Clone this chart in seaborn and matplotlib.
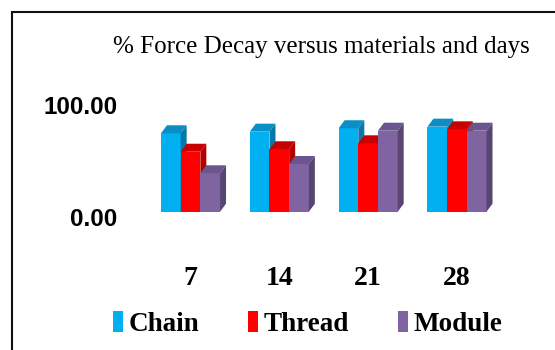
import matplotlib
matplotlib.use("Agg")
import matplotlib.pyplot as plt
from matplotlib.patches import Polygon, Rectangle
from matplotlib.ticker import StrMethodFormatter
from matplotlib.transforms import ScaledTranslation
import seaborn as sns
import pandas as pd

# ---- data ----
days = ["7", "14", "21", "28"]
chain = [73.5, 75.0, 78.2, 79.7]
thread = [56.2, 58.5, 64.1, 77.2]
module = [36.0, 44.7, 75.9, 75.9]
series_names = ["Chain", "Thread", "Module"]
title_text = "% Force Decay versus materials and days"
y_ticks = [0, 100]

front_colors = {"Chain": "#00B0F0", "Thread": "#FF0000", "Module": "#8064A2"}
top_colors = {"Chain": "#0A8EC4", "Thread": "#C80000", "Module": "#6A5590"}
side_colors = {"Chain": "#0878A6", "Thread": "#B00000", "Module": "#574572"}

df = pd.DataFrame({
    "day": days * 3,
    "series": [s for s in series_names for _ in days],
    "value": chain + thread + module,
})

sns.set_theme(style="white")
plt.rcParams["font.family"] = ["Liberation Serif", "DejaVu Serif"]
plt.rcParams["text.color"] = "black"

fig = plt.figure(figsize=(5.55, 3.5), dpi=100)
ax = fig.add_axes([137.2 / 555, 138.3 / 350, (501.4 - 137.2) / 555, (245 - 138.3) / 350])

sns.barplot(data=df, x="day", y="value", hue="series", order=days,
            hue_order=series_names, palette=front_colors, saturation=1,
            width=0.665, errorbar=None, ax=ax, linewidth=0)

ax.set_xlim(-0.6, 3.5)
ax.set_ylim(0, 100)
ax.set_yticks(y_ticks)
ax.yaxis.set_major_formatter(StrMethodFormatter("{x:.2f}"))
ax.set_xlabel("")
ax.set_ylabel("")
for sp in ax.spines.values():
    sp.set_visible(False)
ax.tick_params(axis="both", length=0, labelcolor="black")
ax.tick_params(axis="y", pad=14.4)
ax.tick_params(axis="x", pad=39)
for lab in ax.get_yticklabels():
    lab.set_fontfamily(["Liberation Sans"])
    lab.set_fontweight("bold")
    lab.set_fontsize(17.5)
for lab in ax.get_xticklabels():
    lab.set_fontfamily(["Liberation Serif"])
    lab.set_fontweight("bold")
    lab.set_fontsize(20)

# shift the 0.00 label slightly down (as in reference)
t0 = ax.yaxis.get_major_ticks()[0]
t0.label1.set_transform(t0.label1.get_transform() +
                        ScaledTranslation(0, -4 / 72, fig.dpi_scale_trans))

# ---- pseudo 3-D faces derived from the seaborn bars ----
dx_px, dy_px = 6.0, 8.0
p0 = ax.transData.transform((0, 0))
p1 = ax.transData.transform((1, 1))
dx = dx_px / (p1[0] - p0[0])
dy = dy_px / (p1[1] - p0[1])

bars_by_series = {}
for cont, name in zip(ax.containers, series_names):
    bars_by_series[name] = list(cont)

z = 2
for gi in range(len(days)):
    for name in series_names:
        bar = bars_by_series[name][gi]
        x0 = bar.get_x()
        w = bar.get_width()
        h = bar.get_height()
        x1 = x0 + w
        bar.set_zorder(z)
        top = Polygon([(x0, h), (x1, h), (x1 + dx, h + dy), (x0 + dx, h + dy)],
                      closed=True, facecolor=top_colors[name], edgecolor="none",
                      zorder=z + 0.1, clip_on=False)
        side = Polygon([(x1, 0), (x1, h), (x1 + dx, h + dy), (x1 + dx, dy)],
                       closed=True, facecolor=side_colors[name], edgecolor="none",
                       zorder=z + 0.2, clip_on=False)
        ax.add_patch(top)
        ax.add_patch(side)
        z += 1

# ---- title ----
fig.text(321 / 555, (350 - 47) / 350, title_text, ha="center", va="center",
         fontsize=18, fontfamily=["Liberation Serif"], color="black")

# ---- legend ----
sns.move_legend(ax, loc="center left", bbox_to_anchor=(113 / 555, 26 / 350),
                bbox_transform=fig.transFigure, ncol=3, frameon=False,
                title=None, borderpad=0, borderaxespad=0,
                handlelength=0.37, handleheight=0.81, handletextpad=0.19,
                columnspacing=1.83, labelcolor="black",
                prop={"family": "Liberation Serif", "weight": "bold", "size": 19.5})

# ---- outer frame ----
fig.add_artist(Rectangle((12 / 555, -0.2), 2.0, (338 / 350) + 0.2,
                         transform=fig.transFigure, fill=False,
                         edgecolor="#111111", linewidth=1.5, clip_on=False))

fig.savefig("out.png", dpi=100, facecolor="white")
